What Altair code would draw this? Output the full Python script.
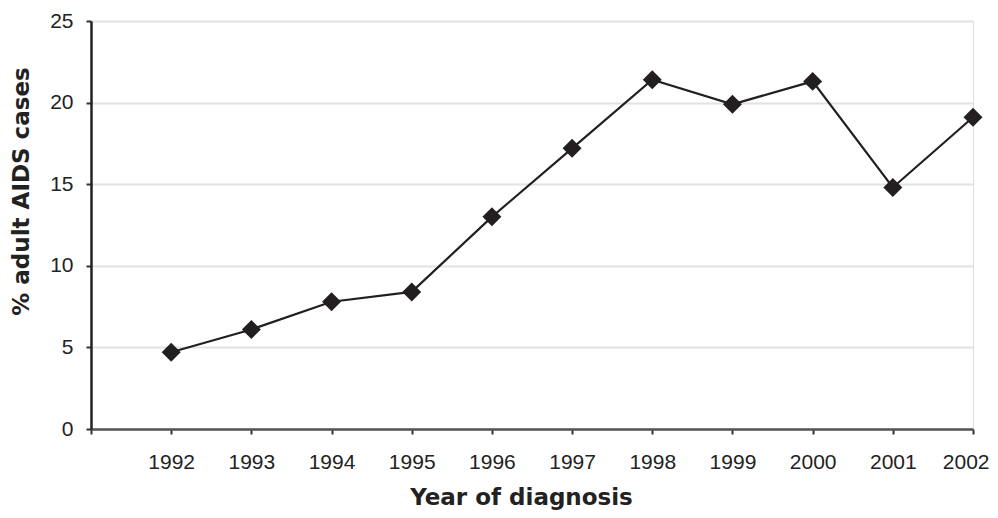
import altair as alt
import pandas as pd

years = [1992, 1993, 1994, 1995, 1996, 1997, 1998, 1999, 2000, 2001, 2002]
pct_adult_aids = [4.7, 6.1, 7.8, 8.4, 13.0, 17.2, 21.4, 19.9, 21.3, 14.8, 19.1]
x_tick_values = [1991, 1992, 1993, 1994, 1995, 1996, 1997, 1998, 1999, 2000, 2001, 2002]
y_tick_values = [0, 5, 10, 15, 20, 25]

df = pd.DataFrame({"year": years, "pct": pct_adult_aids})

label_font = "Liberation Sans"
title_font = "DejaVu Sans"

x_enc = alt.X(
    "year:Q",
    scale=alt.Scale(domain=[1991, 2002], nice=False, zero=False),
    axis=alt.Axis(
        title="Year of diagnosis",
        values=x_tick_values,
        format="d",
        labelExpr="datum.value < 1992 ? '' : datum.label",
        grid=False,
        domainColor="#555555",
        domainWidth=2.5,
        tickColor="#333333",
        tickWidth=2,
        tickSize=5,
        labelFont=label_font,
        labelFontSize=21,
        labelColor="#222222",
        labelPadding=17,
        labelFlush=True,
        labelFlushOffset=16,
        titleFont=title_font,
        titleFontSize=23,
        titleFontWeight="bold",
        titleColor="#222222",
        titleX=430,
        titleY=75,
        titleAlign="center",
        titleBaseline="alphabetic",
    ),
)

y_enc = alt.Y(
    "pct:Q",
    scale=alt.Scale(domain=[0, 25], nice=False),
    axis=alt.Axis(
        title="% adult AIDS cases",
        values=y_tick_values,
        grid=True,
        gridColor="#e2e2e2",
        gridWidth=2,
        domainColor="#222222",
        domainWidth=2.5,
        tickColor="#333333",
        tickWidth=2,
        tickSize=5,
        labelFont=label_font,
        labelFontSize=21,
        labelColor="#222222",
        labelPadding=13,
        titleFont=title_font,
        titleFontSize=23,
        titleFontWeight="bold",
        titleColor="#222222",
        titleAngle=270,
        titleX=-70,
        titleY=170,
        titleAlign="center",
        titleBaseline="middle",
    ),
)

line = alt.Chart(df).mark_line(color="#231f20", strokeWidth=2.2).encode(x=x_enc, y=y_enc)
points = alt.Chart(df).mark_point(
    shape="diamond", filled=True, color="#231f20", opacity=1, size=360
).encode(x="year:Q", y="pct:Q")

chart = (
    alt.layer(line, points)
    .properties(
        width=882,
        height=408,
        autosize=alt.AutoSizeParams(type="none"),
        padding={"left": 83, "top": 13, "right": 17, "bottom": 81},
    )
    .configure_view(stroke=None)
    .configure(background="white")
)

chart.save("out.html", embed_options={"renderer": "svg", "actions": False})
